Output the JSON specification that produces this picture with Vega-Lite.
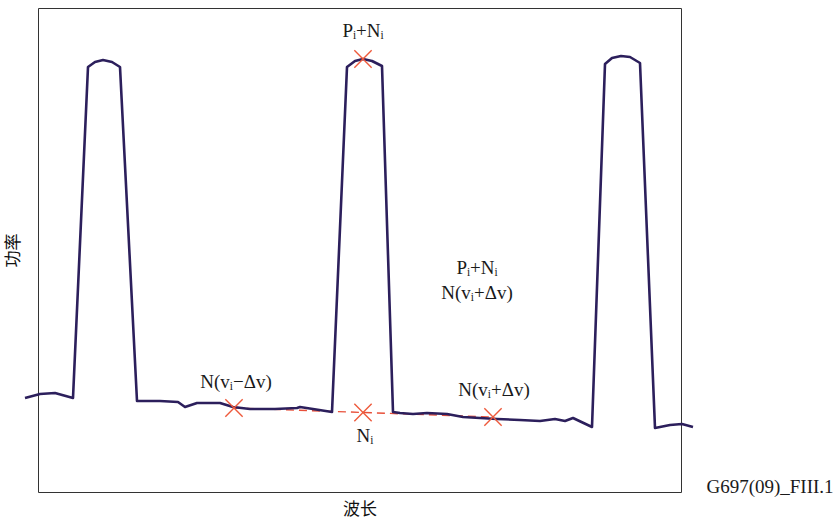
{
  "$schema": "https://vega.github.io/schema/vega-lite/v6.json",
  "width": 643,
  "height": 484,
  "autosize": {"type": "none"},
  "padding": {"left": 38, "top": 8, "right": 156, "bottom": 33},
  "background": "white",
  "config": {
    "view": {"stroke": "#333333", "strokeWidth": 1},
    "axis": {"grid": false, "ticks": false, "labels": false, "domain": false,
             "titleFont": "Noto Sans CJK SC", "titleFontSize": 17, "titleFontWeight": "normal", "titleColor": "#111111"}
  },
  "datasets": {
    "spectrum": [
      {"wl": -1.3, "p": 9.4}, {"wl": 0.2, "p": 9.8}, {"wl": 1.7, "p": 9.9}, {"wl": 3.5, "p": 9.4},
      {"wl": 5.0, "p": 42.5}, {"wl": 5.7, "p": 43.0}, {"wl": 6.5, "p": 43.2}, {"wl": 7.4, "p": 43.0}, {"wl": 8.2, "p": 42.5},
      {"wl": 9.9, "p": 9.1}, {"wl": 12.2, "p": 9.1}, {"wl": 14.0, "p": 9.0}, {"wl": 14.7, "p": 8.5}, {"wl": 15.9, "p": 8.9},
      {"wl": 18.2, "p": 8.9}, {"wl": 19.5, "p": 8.5}, {"wl": 21.2, "p": 8.3}, {"wl": 23.7, "p": 8.3}, {"wl": 25.9, "p": 8.4},
      {"wl": 26.2, "p": 8.5}, {"wl": 27.5, "p": 8.3}, {"wl": 29.4, "p": 8.0},
      {"wl": 30.9, "p": 42.5}, {"wl": 31.7, "p": 43.1}, {"wl": 32.5, "p": 43.3}, {"wl": 33.4, "p": 43.1}, {"wl": 34.4, "p": 42.6},
      {"wl": 35.5, "p": 8.0}, {"wl": 36.2, "p": 7.9}, {"wl": 37.5, "p": 7.8}, {"wl": 38.9, "p": 7.9}, {"wl": 40.9, "p": 7.8},
      {"wl": 42.5, "p": 7.5}, {"wl": 44.2, "p": 7.4}, {"wl": 45.9, "p": 7.3}, {"wl": 48.2, "p": 7.2}, {"wl": 50.2, "p": 7.1},
      {"wl": 51.7, "p": 7.3}, {"wl": 52.7, "p": 7.1}, {"wl": 53.5, "p": 7.4}, {"wl": 55.4, "p": 6.5},
      {"wl": 56.7, "p": 42.8}, {"wl": 57.4, "p": 43.4}, {"wl": 58.3, "p": 43.6}, {"wl": 59.2, "p": 43.5}, {"wl": 60.2, "p": 42.9},
      {"wl": 61.7, "p": 6.4}, {"wl": 63.2, "p": 6.7}, {"wl": 64.4, "p": 6.8}, {"wl": 65.5, "p": 6.5}
    ],
    "markers": [
      {"wl": 19.6, "p": 8.4}, {"wl": 32.5, "p": 7.95}, {"wl": 45.5, "p": 7.5}, {"wl": 32.5, "p": 43.3}
    ],
    "noiseLine": [
      {"wl": 19.6, "p": 8.4}, {"wl": 45.5, "p": 7.5}
    ],
    "labels": [
      {"wl": 32.5, "p": 46.1, "text": "Pᵢ+Nᵢ"},
      {"wl": 43.9, "p": 22.4, "text": "Pᵢ+Nᵢ"},
      {"wl": 43.9, "p": 19.9, "text": "N(vᵢ+Δv)"},
      {"wl": 19.8, "p": 11.0, "text": "N(vᵢ−Δv)"},
      {"wl": 32.7, "p": 5.6, "text": "Nᵢ"},
      {"wl": 45.6, "p": 10.2, "text": "N(vᵢ+Δv)"},
      {"wl": 73.2, "p": 0.5, "text": "G697(09)_FIII.1"}
    ]
  },
  "encoding": {
    "x": {"field": "wl", "type": "quantitative", "scale": {"domain": [0, 64.3], "nice": false, "zero": false},
          "axis": {"title": "波长", "titlePadding": 9}},
    "y": {"field": "p", "type": "quantitative", "scale": {"domain": [0, 48.4], "nice": false, "zero": false},
          "axis": {"title": "功率", "titlePadding": 16}}
  },
  "layer": [
    {
      "data": {"name": "noiseLine"},
      "mark": {"type": "line", "color": "#e8503a", "strokeWidth": 1.4, "strokeDash": [8, 5]}
    },
    {
      "data": {"name": "spectrum"},
      "mark": {"type": "line", "color": "#2c1f5c", "strokeWidth": 2.6, "strokeJoin": "round"}
    },
    {
      "data": {"name": "markers"},
      "mark": {"type": "point", "shape": "M-1,-1L1,1M-1,1L1,-1", "size": 300, "filled": false,
               "stroke": "#ee5a3c", "strokeWidth": 1.4, "opacity": 1}
    },
    {
      "data": {"name": "labels"},
      "mark": {"type": "text", "font": "Liberation Serif", "fontSize": 19, "color": "#1a1a1a",
               "align": "center", "baseline": "middle"},
      "encoding": {"text": {"field": "text"}}
    }
  ]
}
